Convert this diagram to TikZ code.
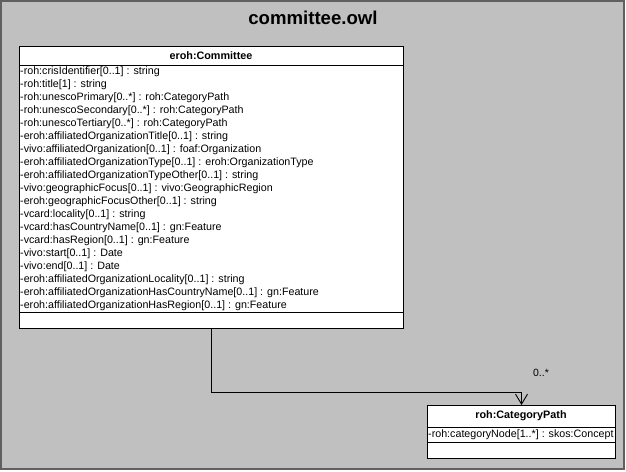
\documentclass[tikz,border=0pt]{standalone}
\usepackage{fontspec}
\setmainfont{Liberation Sans}
\usetikzlibrary{arrows.meta,positioning}
\definecolor{pkgfill}{HTML}{C0C0C0}
\definecolor{pkgline}{HTML}{606060}
\tikzset{
  x=1pt, y=-1pt,
  classbox/.style={draw=black, line width=1pt, fill=white, inner sep=0pt, anchor=north west},
  classhead/.style={font=\fontsize{10.8}{12}\selectfont\bfseries, inner sep=0pt},
  attr/.style={font=\fontsize{10.7}{12}\selectfont, inner sep=0pt, anchor=west},
  conn/.style={draw=black, line width=0.9pt},
  mult/.style={font=\fontsize{10.5}{12}\selectfont, inner sep=0pt},
}
\begin{document}
\begin{tikzpicture}
\useasboundingbox (0,0) rectangle (626,471);
\fill[white] (0,0) rectangle (626,471);
% package frame
\draw[fill=pkgfill, draw=pkgline, line width=2pt] (1,1) rectangle (624,469);
\node[font=\fontsize{18.6}{22}\selectfont\bfseries, inner sep=0pt] (title) at (313,17.5) {committee.owl};

% class eroh:Committee
\node[classbox, minimum width=384pt, minimum height=282pt] (cls) at (19,46) {};
\draw[line width=1pt] (19,65) -- (403,65);
\draw[line width=1pt] (19,312) -- (403,312);
\node[classhead] (clsname) at (211,55.5) {eroh:Committee};
\foreach \t [count=\i] in {
 {-roh:crisIdentifier[0..1] : string},
 {-roh:title[1] : string},
 {-roh:unescoPrimary[0..*] : roh:CategoryPath},
 {-roh:unescoSecondary[0..*] : roh:CategoryPath},
 {-roh:unescoTertiary[0..*] : roh:CategoryPath},
 {-eroh:affiliatedOrganizationTitle[0..1] : string},
 {-vivo:affiliatedOrganization[0..1] : foaf:Organization},
 {-eroh:affiliatedOrganizationType[0..1] : eroh:OrganizationType},
 {-eroh:affiliatedOrganizationTypeOther[0..1] : string},
 {-vivo:geographicFocus[0..1] : vivo:GeographicRegion},
 {-eroh:geographicFocusOther[0..1] : string},
 {-vcard:locality[0..1] : string},
 {-vcard:hasCountryName[0..1] : gn:Feature},
 {-vcard:hasRegion[0..1] : gn:Feature},
 {-vivo:start[0..1] : Date},
 {-vivo:end[0..1] : Date},
 {-eroh:affiliatedOrganizationLocality[0..1] : string},
 {-eroh:affiliatedOrganizationHasCountryName[0..1] : gn:Feature},
 {-eroh:affiliatedOrganizationHasRegion[0..1] : gn:Feature}}
{
  \node[attr] (a\i) at (20,{65+13*(\i-0.5)}) {\t};
}

% class roh:CategoryPath
\node[classbox, minimum width=188pt, minimum height=53pt] (cp) at (427,405) {};
\draw[line width=1pt] (427,427) -- (615,427);
\draw[line width=1pt] (427,442) -- (615,442);
\node[classhead] (cpname) at (521,416) {roh:CategoryPath};
\node[attr] (cpa) at (428,434.5) {-roh:categoryNode[1..*] : skos:Concept};

% association
\draw[conn, -{Straight Barb[length=10pt,width=12pt,line width=0.9pt]}]
  (cls.south) -- ++(0,63) -| (cp.north);
\node[mult] (m) at (541,373) {0..*};
\end{tikzpicture}
\end{document}
